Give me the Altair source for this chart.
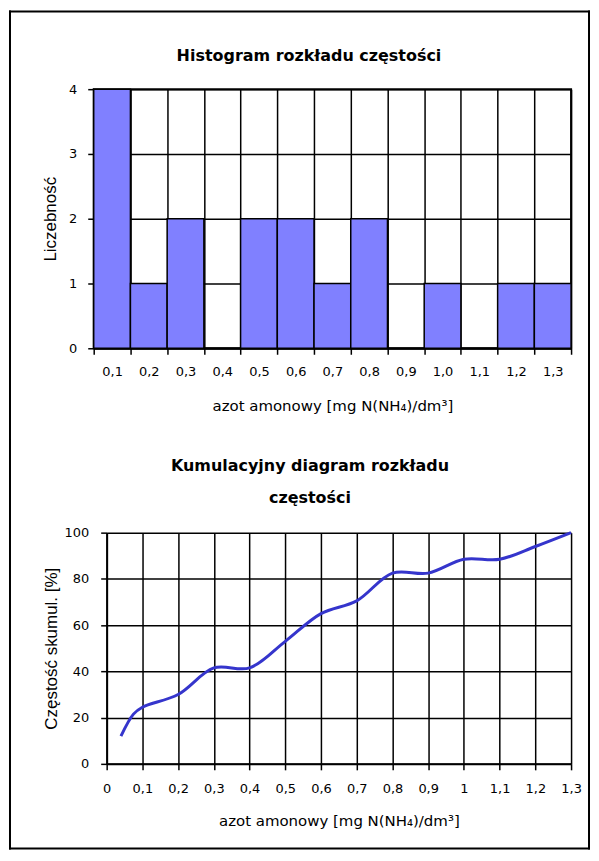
import altair as alt
import pandas as pd

# ---------------- data ----------------
bins = ["0,1", "0,2", "0,3", "0,4", "0,5", "0,6", "0,7", "0,8", "0,9", "1,0", "1,1", "1,2", "1,3"]
counts = [4, 1, 2, 0, 2, 2, 1, 2, 0, 1, 0, 1, 1]

cum_x = [0.04, 0.075, 0.1, 0.2, 0.3, 0.4, 0.5, 0.6, 0.7, 0.8, 0.9, 1.0, 1.1, 1.2, 1.3]
cum_y = [12, 21.5, 24.5, 30, 41.5, 41.5, 53, 65, 70.5, 82.5, 82.5, 88.5, 88.5, 94, 100]

hist_ticks_y = [0, 1, 2, 3, 4]
cum_ticks_x = [0, 0.1, 0.2, 0.3, 0.4, 0.5, 0.6, 0.7, 0.8, 0.9, 1.0, 1.1, 1.2, 1.3]
cum_ticks_y = [0, 20, 40, 60, 80, 100]

TITLE1 = "Histogram rozkładu częstości"
TITLE2 = "Kumulacyjny diagram rozkładu\nczęstości"
XTITLE = "azot amonowy [mg N(NH₄)/dm³]"
YTITLE1 = "Liczebność"
YTITLE2 = "Częstość skumul. [%]"

BAR_FILL = "#8080FF"
LINE_COLOR = "#3535CC"

one = pd.DataFrame({"k": [0]})


def frame_part(x1, x2, y1, y2):
    return alt.Chart(one).mark_rect(color="black", opacity=1).encode(
        x=alt.value(x1), x2=alt.value(x2), y=alt.value(y1), y2=alt.value(y2)
    )


def title_text(text, x, y):
    return alt.Chart(one).mark_text(
        text=text, font="DejaVu Sans", fontWeight="bold", fontSize=16,
        align="center", baseline="alphabetic", lineBreak="\n", lineHeight=32,
        color="black",
    ).encode(x=alt.value(x), y=alt.value(y))


W = 479            # both panels share the same plot width / origin
FL, FR = -85, 498  # frame left / right relative to the plot origin

# ---------------- histogram ----------------
H1 = 260
hist_df = pd.DataFrame({"bin": bins, "count": counts})

bars = alt.Chart(hist_df).mark_bar(
    fill=BAR_FILL, stroke="black", strokeWidth=1.5, opacity=1
).encode(
    x=alt.X(
        "bin:O", sort=bins,
        scale=alt.Scale(paddingInner=0, paddingOuter=0),
        axis=alt.Axis(
            title=XTITLE, tickBand="extent", grid=True, labelAngle=0,
            labelPadding=11, titlePadding=20, labelOverlap=False,
        ),
    ),
    y=alt.Y(
        "count:Q",
        scale=alt.Scale(domain=[0, 4], nice=False),
        axis=alt.Axis(
            values=hist_ticks_y, title=YTITLE1, labelPadding=11,
            titlePadding=9, grid=True,
        ),
    ),
)

top = alt.layer(
    bars,
    title_text(TITLE1, 216, -28),
    frame_part(FL, FL + 2, -79, 352),
    frame_part(FR - 2, FR, -79, 352),
    frame_part(FL, FR, -79, -77),
).properties(width=W, height=H1)

# ---------------- cumulative ----------------
H2 = 232
X0 = 13  # left inset of the cumulative plot inside the shared width
cum_df = pd.DataFrame({"x": cum_x, "y": cum_y})

line = alt.Chart(cum_df).mark_line(
    color=LINE_COLOR, strokeWidth=3, interpolate="catmull-rom"
).encode(
    x=alt.X(
        "x:Q",
        scale=alt.Scale(domain=[0, 1.3], nice=False, zero=False, range=[X0, W]),
        axis=alt.Axis(
            values=cum_ticks_x, title=XTITLE, grid=True,
            labelExpr="replace(toString(round(datum.value*10)/10), '.', ',')",
            labelFlush=False, labelOverlap=False, labelPadding=13, titlePadding=18,
        ),
    ),
    y=alt.Y(
        "y:Q",
        scale=alt.Scale(domain=[0, 100], nice=False),
        axis=alt.Axis(
            values=cum_ticks_y, title=YTITLE2, grid=True, offset=-X0,
            labelPadding=12, titlePadding=4, labelFlush=False,
        ),
    ),
)

bottom = alt.layer(
    line,
    title_text(TITLE2, 217, -62),
    frame_part(FL, FL + 2, -94, 318),
    frame_part(FR - 2, FR, -94, 318),
    frame_part(FL, FR, 316, 318),
).properties(width=W, height=H2, view=alt.ViewBackground(stroke="transparent"))

chart = (
    alt.concat(top, bottom, columns=1, spacing=-3)
    .properties(padding=0, background="white")
    .configure_view(stroke="black", strokeWidth=2, fill="white")
    .configure_axis(
        domainColor="black", domainWidth=2,
        tickColor="black", tickWidth=1.5, tickSize=6,
        gridColor="black", gridWidth=1.5, gridOpacity=1,
        labelFont="DejaVu Sans", labelFontSize=13, labelColor="black",
        titleColor="black", titleFontWeight="normal",
    )
    .configure_axisX(titleFont="DejaVu Sans", titleFontSize=15)
    .configure_axisY(titleFont="Liberation Sans", titleFontSize=17)
)

chart.save("out.html", embed_options={"renderer": "svg", "actions": False})
